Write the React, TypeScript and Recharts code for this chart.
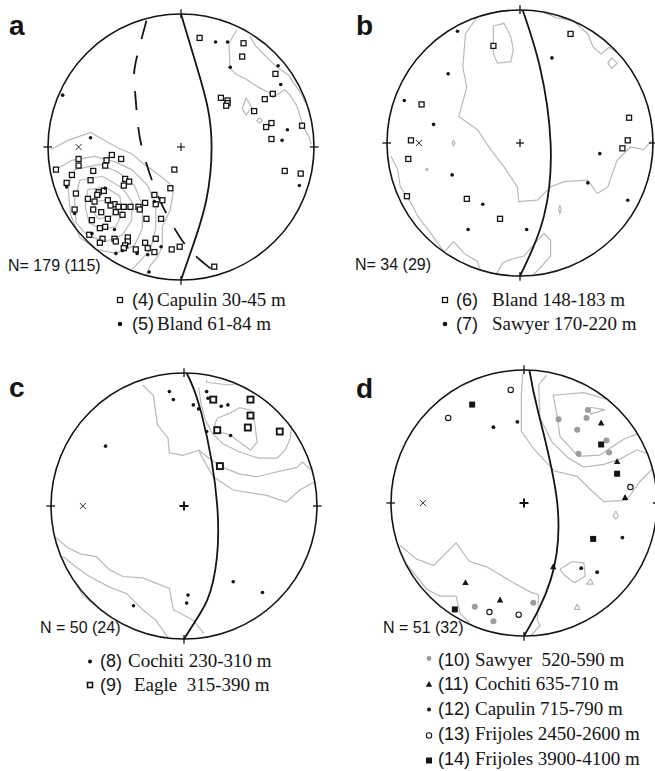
import React from "react";
import { ComposedChart, Line, Scatter, XAxis, YAxis, ReferenceDot, ReferenceLine } from "recharts";

type P = [number, number];

// coordinates are in stereonet units (primitive circle radius = 1)

// ---- panel a
const aCapulin: P[] = [
  [0.14, 0.82], [0.47, 0.78], [0.46, 0.68], [0.71, 0.55], [0.69, 0.4], [0.63, 0.36], [0.3, 0.37], [0.35, 0.35],
  [0.35, 0.33], [0.34, 0.31], [0.55, 0.27], [0.68, 0.18], [0.64, 0.15], [0.91, 0.16], [0.68, 0.06], [0.78, -0.18],
  [0.9, -0.2], [-0.05, -0.17], [0.25, -0.9],
  [-0.52, -0.06], [-0.45, -0.09], [-0.56, -0.1], [-0.77, -0.09], [-0.77, -0.14], [-0.57, -0.14], [-0.94, -0.17],
  [-0.82, -0.21], [-0.66, -0.18], [-0.68, -0.25], [-0.42, -0.24], [-0.39, -0.26], [-0.43, -0.29], [-0.86, -0.27],
  [-0.08, -0.31], [-0.62, -0.34], [-0.58, -0.33], [-0.63, -0.36], [-0.79, -0.35], [-0.2, -0.36], [-0.14, -0.4],
  [-0.7, -0.39], [-0.65, -0.41], [-0.55, -0.4], [-0.5, -0.43], [-0.53, -0.44], [-0.47, -0.45], [-0.43, -0.45],
  [-0.38, -0.45], [-0.32, -0.45], [-0.27, -0.42], [-0.31, -0.47], [-0.19, -0.43], [-0.8, -0.47], [-0.66, -0.47],
  [-0.6, -0.49], [-0.49, -0.49], [-0.44, -0.51], [-0.26, -0.54], [-0.15, -0.54], [-0.67, -0.55], [-0.55, -0.54],
  [-0.57, -0.6], [-0.61, -0.61], [-0.69, -0.66], [-0.59, -0.69], [-0.5, -0.69], [-0.49, -0.71], [-0.61, -0.72],
  [-0.4, -0.68], [-0.4, -0.71], [-0.42, -0.74], [-0.43, -0.76], [-0.27, -0.72], [-0.19, -0.69], [-0.34, -0.77],
  [-0.25, -0.76], [-0.2, -0.79], [-0.07, -0.77], [-0.01, -0.75],
];
const aBland: P[] = [
  [0.26, 0.79], [0.35, 0.79], [0.73, 0.61], [0.37, 0.6], [0.75, 0.47], [0.8, 0.13], [0.76, 0.05], [0.89, -0.29],
  [-0.89, 0.39], [-0.68, 0.07], [-0.24, -0.94], [-0.57, -0.31], [-0.86, -0.3], [-0.5, -0.62], [-0.8, -0.5],
  [-0.67, -0.65], [-0.49, -0.8], [-0.25, -0.81], [-0.33, -0.8], [-0.15, -0.75], [-0.44, -0.78], [-0.2, -0.41],
];
const aPole: P[] = [[-0.77, 0]];
const aGreat: P[] = [[0, 1], [0.12, 0.6], [0.2, 0.3], [0.23, 0], [0.19, -0.4], [0.08, -0.77], [0, -1]];
const aDashed: P[] = [
  [-0.26, 0.95], [-0.34, 0.64], [-0.35, 0.48], [-0.33, 0.23], [-0.29, -0.02], [-0.18, -0.35], [-0.05, -0.61],
  [0.08, -0.79], [0.27, -0.95],
];
const aContours: P[][] = [
  [[-0.98, -0.02], [-0.85, 0.05], [-0.68, 0.11], [-0.61, 0.07], [-0.47, -0.01], [-0.37, -0.05], [-0.29, -0.12],
   [-0.14, -0.23], [-0.07, -0.29], [-0.06, -0.35], [-0.08, -0.47], [-0.14, -0.6], [-0.14, -0.75], [-0.18, -0.83],
   [-0.23, -0.89], [-0.26, -0.96]],
  [[-0.96, -0.18], [-0.82, -0.1], [-0.65, -0.07], [-0.5, -0.11], [-0.37, -0.17], [-0.25, -0.29], [-0.19, -0.44],
   [-0.19, -0.61], [-0.23, -0.77], [-0.31, -0.86], [-0.37, -0.92]],
  [[-0.85, -0.29], [-0.8, -0.17], [-0.61, -0.13], [-0.47, -0.19], [-0.35, -0.29], [-0.29, -0.44], [-0.29, -0.61],
   [-0.35, -0.74], [-0.49, -0.8], [-0.64, -0.77], [-0.76, -0.68], [-0.83, -0.51], [-0.85, -0.29]],
  [[-0.76, -0.25], [-0.59, -0.22], [-0.44, -0.31], [-0.37, -0.41], [-0.37, -0.55], [-0.44, -0.66], [-0.56, -0.71],
   [-0.7, -0.67], [-0.79, -0.57], [-0.8, -0.4], [-0.76, -0.25]],
  [[-0.7, -0.32], [-0.57, -0.3], [-0.46, -0.37], [-0.44, -0.5], [-0.49, -0.6], [-0.6, -0.62], [-0.69, -0.57],
   [-0.72, -0.45], [-0.7, -0.32]],
  [[-0.65, -0.41], [-0.56, -0.4], [-0.5, -0.46], [-0.52, -0.52], [-0.62, -0.54], [-0.66, -0.49], [-0.65, -0.41]],
  [[0.42, 0.88], [0.36, 0.78], [0.37, 0.59], [0.41, 0.55], [0.49, 0.51], [0.58, 0.45], [0.66, 0.41], [0.69, 0.37],
   [0.78, 0.43], [0.82, 0.39], [0.87, 0.31], [0.89, 0.25], [0.92, 0.15], [0.96, 0.08], [0.98, 0.02]],
  [[0.52, 0.83], [0.56, 0.76], [0.64, 0.68], [0.71, 0.61], [0.81, 0.54], [0.87, 0.45], [0.91, 0.39], [0.93, 0.34]],
  [[0.49, 0.37], [0.53, 0.3], [0.49, 0.24], [0.46, 0.29], [0.49, 0.37]],
  [[0.59, 0.22], [0.61, 0.2], [0.59, 0.18], [0.57, 0.2], [0.59, 0.22]],
];

// ---- panel b
const bBland: P[] = [
  [-0.2, 0.73], [0.38, 0.82], [-0.74, 0.29], [-0.82, 0.02], [-0.84, -0.12], [-0.85, -0.4], [-0.4, -0.42],
  [-0.15, -0.57], [0.82, 0.19], [0.81, 0.02], [0.77, -0.04],
];
const bSawyer: P[] = [
  [-0.47, 0.84], [-0.54, 0.52], [-0.87, 0.32], [-0.65, 0.14], [0.24, 0.64], [-0.51, -0.24], [-0.28, -0.46],
  [-0.39, -0.65], [0.05, -0.65], [0.6, -0.08], [0.51, -0.3], [0.81, -0.43],
];
const bPole: P[] = [[-0.76, 0]];
const bGreat: P[] = [[0.02, 1], [0.15, 0.57], [0.23, 0], [0.18, -0.55], [0, -1]];
const bContours: P[][] = [
  [[-0.32, 0.95], [-0.41, 0.82], [-0.43, 0.57], [-0.4, 0.42], [-0.46, 0.2], [-0.32, 0.1], [-0.22, -0.05],
   [-0.12, -0.18], [-0.02, -0.33], [-0.01, -0.44], [0.13, -0.43], [0.23, -0.33], [0.33, -0.29], [0.51, -0.28],
   [0.58, -0.38], [0.66, -0.33], [0.73, -0.13], [0.83, -0.03], [0.93, -0.05], [0.99, 0.02]],
  [[-0.2, 0.88], [-0.12, 0.9], [-0.07, 0.8], [-0.05, 0.7], [-0.07, 0.61], [-0.17, 0.6], [-0.2, 0.67], [-0.2, 0.8],
   [-0.2, 0.88]],
  [[0.18, 0.98], [0.28, 0.94], [0.4, 0.92], [0.51, 0.82], [0.55, 0.72], [0.61, 0.67], [0.67, 0.72], [0.73, 0.68]],
  [[0.66, 0.6], [0.69, 0.64], [0.73, 0.6], [0.69, 0.56], [0.66, 0.6]],
  [[-0.97, -0.1], [-0.92, -0.2], [-0.9, -0.33], [-0.82, -0.45], [-0.77, -0.55], [-0.67, -0.68], [-0.57, -0.82]],
  [[-0.57, -0.82], [-0.5, -0.74], [-0.42, -0.83], [-0.32, -0.89], [-0.3, -0.95]],
  [[-0.18, -0.99], [-0.13, -0.9], [-0.05, -0.87], [0.03, -0.85], [0.1, -0.77], [0.18, -0.68], [0.23, -0.73],
   [0.23, -0.85], [0.15, -0.94], [0.1, -0.99]],
  [[-0.5, 0.02], [-0.49, 0], [-0.5, -0.02], [-0.51, 0], [-0.5, 0.02]],
  [[-0.7, -0.19], [-0.69, -0.2], [-0.7, -0.21], [-0.71, -0.2], [-0.7, -0.19]],
  [[0.3, -0.47], [0.31, -0.5], [0.3, -0.53], [0.29, -0.5], [0.3, -0.47]],
];

// ---- panel c
const cCochiti: P[] = [
  [-0.11, 0.86], [-0.08, 0.8], [0.07, 0.76], [0.11, 0.73], [0.17, 0.86], [0.18, 0.81], [0.28, 0.75], [0.33, 0.76],
  [0.17, 0.56], [0.35, 0.53], [-0.59, 0.45], [0.37, -0.57], [0.59, -0.65], [0.03, -0.67], [0.02, -0.73],
  [-0.38, -0.75],
];
const cEagle: P[] = [[0.22, 0.8], [0.5, 0.8], [0.5, 0.68], [0.48, 0.59], [0.25, 0.57], [0.72, 0.56], [0.27, 0.3]];
const cPole: P[] = [[-0.76, 0]];
const cGreat: P[] = [[0.02, 1], [0.13, 0.7], [0.25, 0], [0.22, -0.56], [0.12, -0.81], [0, -1]];
const cContours: P[][] = [
  [[-0.31, 0.91], [-0.23, 0.83], [-0.2, 0.61], [-0.12, 0.51], [-0.11, 0.4], [-0.01, 0.38], [0.11, 0.42],
   [0.2, 0.35], [0.29, 0.29], [0.42, 0.24], [0.55, 0.22], [0.67, 0.25], [0.85, 0.29], [0.89, 0.33], [0.96, 0.27]],
  [[0.11, 0.42], [0.14, 0.36], [0.22, 0.22], [0.37, 0.12], [0.62, 0.08], [0.77, 0.03], [0.87, 0.12], [0.98, 0.18]],
  [[0.11, 0.89], [0.13, 0.76], [0.16, 0.65], [0.21, 0.55], [0.29, 0.47], [0.41, 0.41], [0.56, 0.36], [0.7, 0.36],
   [0.76, 0.42], [0.8, 0.51], [0.81, 0.61]],
  [[0.25, 0.66], [0.35, 0.7], [0.42, 0.74], [0.5, 0.72], [0.53, 0.63], [0.55, 0.48], [0.5, 0.42], [0.42, 0.48],
   [0.35, 0.53], [0.27, 0.56], [0.23, 0.61], [0.25, 0.66]],
  [[0.17, 0.95], [0.17, 0.93], [0.33, 0.91], [0.4, 0.92]],
  [[-0.96, -0.24], [-0.88, -0.31], [-0.78, -0.36], [-0.66, -0.38], [-0.56, -0.48], [-0.46, -0.53], [-0.31, -0.54],
   [-0.21, -0.58], [-0.11, -0.62], [-0.08, -0.78], [-0.02, -0.81], [0.07, -0.86], [0.15, -0.96]],
  [[-0.91, -0.38], [-0.81, -0.46], [-0.71, -0.53], [-0.56, -0.61], [-0.43, -0.66], [-0.31, -0.78], [-0.21, -0.86],
   [-0.12, -0.99]],
  [[-0.83, -0.56], [-0.76, -0.67], [-0.63, -0.78], [-0.56, -0.83]],
];

// ---- panel d
const dSawyer: P[] = [
  [0.48, 0.7], [0.26, 0.63], [0.47, 0.64], [0.4, 0.55], [0.62, 0.47], [0.64, 0.38], [0.41, 0.37], [-0.37, -0.78],
  [-0.23, -0.89], [0.07, -0.75],
];
const dCochiti: P[] = [[0.58, 0.6], [0.7, 0.31], [0.76, 0.04], [0.22, -0.48], [-0.44, -0.6], [-0.18, -0.73]];
const dCapulin: P[] = [[-0.23, 0.57], [-0.05, 0.61], [0.74, -0.26], [0.43, -0.49], [0.55, -0.52]];
const dFrijoles2450: P[] = [[-0.1, 0.85], [-0.57, 0.64], [0.8, 0.12], [-0.26, -0.82], [-0.04, -0.84]];
const dFrijoles3900: P[] = [[-0.39, 0.74], [0.58, 0.44], [0.7, 0.22], [0.52, -0.27], [-0.52, -0.8]];
const dPole: P[] = [[-0.76, 0]];
const dGreat: P[] = [[0.04, 1], [0.11, 0.67], [0.25, 0], [0.2, -0.58], [0, -1]];
const dContours: P[][] = [
  [[0, 0.99], [-0.01, 0.96], [-0.02, 0.81], [-0.02, 0.54], [0.07, 0.41], [0.23, 0.24], [0.4, 0.2], [0.5, 0.1],
   [0.6, 0.01], [0.77, 0.02], [0.87, 0.16], [0.97, 0.26]],
  [[0.17, 0.96], [0.11, 0.89], [0.12, 0.64], [0.21, 0.46], [0.33, 0.34], [0.45, 0.27], [0.6, 0.29], [0.72, 0.33],
   [0.85, 0.4], [0.93, 0.37]],
  [[0.62, 0.78], [0.45, 0.83], [0.22, 0.81], [0.25, 0.65], [0.27, 0.5], [0.41, 0.35], [0.57, 0.36], [0.75, 0.48],
   [0.85, 0.52]],
  [[0.5, 0.72], [0.61, 0.7], [0.5, 0.67], [0.5, 0.72]],
  [[0.69, -0.06], [0.71, -0.1], [0.69, -0.12], [0.67, -0.1], [0.69, -0.06]],
  [[0.5, -0.57], [0.52, -0.61], [0.47, -0.61], [0.5, -0.57]],
  [[0.4, -0.76], [0.42, -0.8], [0.38, -0.8], [0.4, -0.76]],
  [[0.27, -0.5], [0.36, -0.44], [0.45, -0.45], [0.46, -0.55], [0.38, -0.6], [0.3, -0.54], [0.27, -0.5]],
  [[-0.93, -0.32], [-0.81, -0.42], [-0.68, -0.47], [-0.51, -0.3], [-0.41, -0.44], [-0.28, -0.48], [-0.18, -0.54],
   [-0.08, -0.6], [0.05, -0.67], [0.11, -0.69], [0.1, -0.88], [0.12, -0.92], [0.05, -1]],
  [[-0.89, -0.45], [-0.73, -0.65], [-0.63, -0.7], [-0.51, -0.7], [-0.48, -0.83], [-0.41, -0.9]],
];

const center: P[] = [[0, 0]];
const primitiveTicks: P[] = [[0, 1], [0, -1], [1, 0], [-1, 0]];

const R = 133; // primitive radius in px
const S = 300; // chart box
const L = S / 2 / R;
const INK = "#141414";
const GRAY = "#b9b9b9";

const toXY = (pts: P[]) => pts.map(([x, y]) => ({ x, y }));

type Shape = (p: any) => React.ReactElement;
const openSquare = (s: number, w: number): Shape => (p) => (
  <rect x={p.cx - s / 2} y={p.cy - s / 2} width={s} height={s} fill="#fff" stroke={INK} strokeWidth={w} />
);
const dot = (r: number, fill = INK): Shape => (p) => <circle cx={p.cx} cy={p.cy} r={r} fill={fill} />;
const triangle: Shape = (p) => (
  <polygon points={`${p.cx},${p.cy - 3.6} ${p.cx + 3.2},${p.cy + 2.3} ${p.cx - 3.2},${p.cy + 2.3}`} fill={INK} />
);
const ring: Shape = (p) => <circle cx={p.cx} cy={p.cy} r={2.7} fill="#fff" stroke={INK} strokeWidth={1.1} />;
const solidSquare: Shape = (p) => <rect x={p.cx - 3} y={p.cy - 3} width={6} height={6} fill={INK} />;
const plus = (a: number, w: number): Shape => (p) => (
  <g stroke={INK} strokeWidth={w}>
    <line x1={p.cx - a} y1={p.cy} x2={p.cx + a} y2={p.cy} />
    <line x1={p.cx} y1={p.cy - a} x2={p.cx} y2={p.cy + a} />
  </g>
);
const cross: Shape = (p) => (
  <g stroke="#333" strokeWidth={1}>
    <line x1={p.cx - 3} y1={p.cy - 3} x2={p.cx + 3} y2={p.cy + 3} />
    <line x1={p.cx - 3} y1={p.cy + 3} x2={p.cx + 3} y2={p.cy - 3} />
  </g>
);

type Series = { name: string; data: P[]; shape: Shape };
type NetProps = {
  cx: number; cy: number; contours: P[][]; greats: P[][]; dashed?: P[]; pole: P[]; series: Series[];
  centerShape: Shape;
};

function Stereonet({ cx, cy, contours, greats, dashed, pole, series, centerShape }: NetProps) {
  return (
    <div style={{ position: "absolute", left: cx - S / 2, top: cy - S / 2 }}>
      <ComposedChart width={S} height={S} margin={{ top: 0, right: 0, bottom: 0, left: 0 }}>
        <XAxis type="number" dataKey="x" domain={[-L, L]} hide allowDataOverflow />
        <YAxis type="number" dataKey="y" domain={[-L, L]} hide allowDataOverflow />
        {contours.map((c, i) => (
          <Line key={"c" + i} data={toXY(c)} dataKey="y" type="linear" stroke={GRAY} strokeWidth={1.2}
            dot={false} activeDot={false} isAnimationActive={false} />
        ))}
        {greats.map((g, i) => (
          <Line key={"g" + i} data={toXY(g)} dataKey="y" type="natural" stroke={INK} strokeWidth={1.8}
            dot={false} activeDot={false} isAnimationActive={false} />
        ))}
        {dashed && (
          <Line data={toXY(dashed)} dataKey="y" type="natural" stroke={INK} strokeWidth={1.8}
            strokeDasharray="19 17" dot={false} activeDot={false} isAnimationActive={false} />
        )}
        <ReferenceDot x={0} y={0} r={R} fill="none" stroke={INK} strokeWidth={1.6} ifOverflow="visible" />
        {primitiveTicks.map(([tx, ty], i) => (
          <ReferenceLine key={"t" + i} segment={[{ x: tx * 0.97, y: ty * 0.97 }, { x: tx * 1.035, y: ty * 1.035 }]}
            stroke={INK} strokeWidth={1.3} ifOverflow="visible" />
        ))}
        <Scatter data={toXY(center)} shape={centerShape} isAnimationActive={false} />
        <Scatter data={toXY(pole)} shape={cross} isAnimationActive={false} />
        {series.map((s) => (
          <Scatter key={s.name} name={s.name} data={toXY(s.data)} shape={s.shape} isAnimationActive={false} />
        ))}
      </ComposedChart>
    </div>
  );
}

const sqAB = openSquare(5, 1.3);
const sqC = openSquare(6, 1.9);
const dotAB = dot(1.8);
const dotC = dot(1.8);
const grayDot = dot(3, "#9c9c9c");
const smallDot = dot(1.9);

type LegendRow = { shape: Shape; num: string; label: string; base: number; dy: number; tx?: number };
const SANS = "'Liberation Sans', Arial, Helvetica, sans-serif";
const SERIF = "'Liberation Serif', 'Times New Roman', serif";

function LegendBlock({ sx, px, tx, rows }: { sx: number; px: number; tx: number; rows: LegendRow[] }) {
  return (
    <g>
      {rows.map((r) => (
        <g key={r.num}>
          {r.shape({ cx: sx, cy: r.base - r.dy })}
          <text x={px} y={r.base} fontFamily={SANS} fontSize={18} fill={INK}>{r.num}</text>
          <text x={r.tx ?? tx} y={r.base} fontFamily={SERIF} fontSize={19} fill={INK} style={{ whiteSpace: "pre" }}>
            {r.label}
          </text>
        </g>
      ))}
    </g>
  );
}

export default function App() {
  return (
    <div style={{ position: "absolute", left: 0, top: 0, width: 655, height: 771, overflow: "hidden", background: "#fff" }}>
      <Stereonet cx={181} cy={147} contours={aContours} greats={[aGreat]} dashed={aDashed} pole={aPole}
        centerShape={plus(4, 1.1)}
        series={[{ name: "Capulin 30-45", data: aCapulin, shape: sqAB }, { name: "Bland 61-84", data: aBland, shape: dotAB }]} />
      <Stereonet cx={519.5} cy={143} contours={bContours} greats={[bGreat]} pole={bPole} centerShape={plus(4, 1.3)}
        series={[{ name: "Bland 148-183", data: bBland, shape: sqAB }, { name: "Sawyer 170-220", data: bSawyer, shape: dotAB }]} />
      <Stereonet cx={184} cy={506} contours={cContours} greats={[cGreat]} pole={cPole} centerShape={plus(4.5, 2)}
        series={[{ name: "Cochiti 230-310", data: cCochiti, shape: dotC }, { name: "Eagle 315-390", data: cEagle, shape: sqC }]} />
      <Stereonet cx={524} cy={503} contours={dContours} greats={[dGreat]} pole={dPole} centerShape={plus(4.5, 2)}
        series={[
          { name: "Sawyer 520-590", data: dSawyer, shape: grayDot },
          { name: "Cochiti 635-710", data: dCochiti, shape: triangle },
          { name: "Capulin 715-790", data: dCapulin, shape: smallDot },
          { name: "Frijoles 2450-2600", data: dFrijoles2450, shape: ring },
          { name: "Frijoles 3900-4100", data: dFrijoles3900, shape: solidSquare },
        ]} />
      <svg width={655} height={771} style={{ position: "absolute", left: 0, top: 0, pointerEvents: "none" }}>
        <g fontFamily={SANS} fontWeight={700} fontSize={28} fill={INK}>
          <text x={9} y={35}>a</text>
          <text x={356} y={35}>b</text>
          <text x={9} y={397}>c</text>
          <text x={356} y={398}>d</text>
        </g>
        <g fontFamily={SANS} fontSize={16} fill={INK}>
          <text x={8} y={271}>N= 179 (115)</text>
          <text x={355} y={270}>N= 34 (29)</text>
          <text x={40} y={633}>N = 50 (24)</text>
          <text x={383} y={633}>N = 51 (32)</text>
        </g>
        <LegendBlock sx={120} px={132} tx={157} rows={[
          { shape: sqAB, num: "(4)", label: "Capulin 30-45 m", base: 306, dy: 6 },
          { shape: dot(2.3), num: "(5)", label: "Bland 61-84 m", base: 330, dy: 6 },
        ]} />
        <LegendBlock sx={445} px={456} tx={492} rows={[
          { shape: sqAB, num: "(6)", label: "Bland 148-183 m", base: 306, dy: 6 },
          { shape: dot(2.3), num: "(7)", label: "Sawyer 170-220 m", base: 330, dy: 6 },
        ]} />
        <LegendBlock sx={90} px={100} tx={128} rows={[
          { shape: dot(2), num: "(8)", label: "Cochiti 230-310 m", base: 667, dy: 5.5 },
          { shape: openSquare(5, 1.6), num: "(9)", label: "Eagle  315-390 m", base: 690.5, dy: 5.5, tx: 134 },
        ]} />
        <LegendBlock sx={429} px={438} tx={475} rows={[
          { shape: dot(2.4, "#9c9c9c"), num: "(10)", label: "Sawyer  520-590 m", base: 666, dy: 7.5 },
          { shape: triangle, num: "(11)", label: "Cochiti 635-710 m", base: 690, dy: 5.5 },
          { shape: dot(2), num: "(12)", label: "Capulin 715-790 m", base: 715, dy: 5.5 },
          { shape: ring, num: "(13)", label: "Frijoles 2450-2600 m", base: 740, dy: 4.5 },
          { shape: solidSquare, num: "(14)", label: "Frijoles 3900-4100 m", base: 765, dy: 4.5 },
        ]} />
      </svg>
    </div>
  );
}
